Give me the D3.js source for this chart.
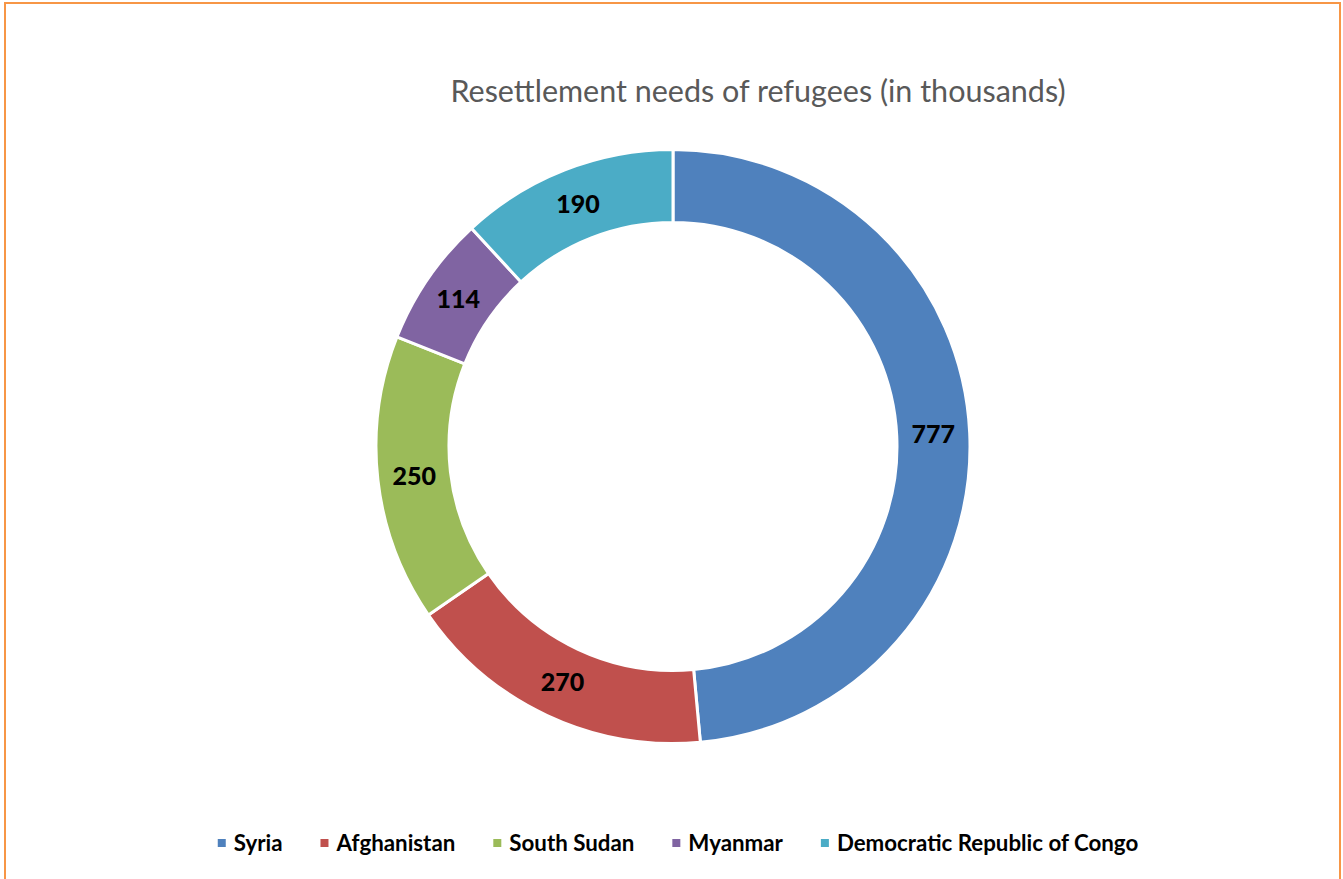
<!DOCTYPE html>
<html>
<head>
<meta charset="utf-8">
<script src="https://cdn.jsdelivr.net/npm/d3@7"></script>
<style>
  html, body { margin: 0; padding: 0; background: #fff; }
  svg { display: block; }
</style>
</head>
<body>
<div id="chart"></div>
<script>
const countries = ["Syria", "Afghanistan", "South Sudan", "Myanmar", "Democratic Republic of Congo"];
const needs = [777, 270, 250, 114, 190];
const colors = ["#4F81BD", "#C0504D", "#9BBB59", "#8064A2", "#4BACC6"];
const title = "Resettlement needs of refugees (in thousands)";

const width = 1343, height = 879;
const cx = 673, cy = 446.5;
const outerR = 297, innerR = 224;

const svg = d3.select("#chart").append("svg")
    .attr("width", width)
    .attr("height", height);

// orange chart frame (bottom edge runs off the picture)
svg.append("rect")
    .attr("x", 5).attr("y", 3)
    .attr("width", 1335).attr("height", 900)
    .attr("fill", "none")
    .attr("stroke", "#F79646")
    .attr("stroke-width", 2);

svg.append("text")
    .attr("x", 758).attr("y", 102)
    .attr("text-anchor", "middle")
    .style("font-family", "Lato, sans-serif")
    .style("font-size", "30.5px")
    .style("fill", "#595959")
    .text(title);

const data = countries.map((c, i) => ({ name: c, value: needs[i], color: colors[i] }));

const pie = d3.pie().value(d => d.value).sort(null);
const arc = d3.arc().innerRadius(innerR).outerRadius(outerR);
const labelArc = d3.arc().innerRadius((innerR + outerR) / 2).outerRadius((innerR + outerR) / 2);

const g = svg.append("g").attr("transform", `translate(${cx},${cy})`);

const slices = pie(data);

g.selectAll("path")
    .data(slices)
    .enter()
    .append("path")
    .attr("d", arc)
    .attr("fill", d => d.data.color)
    .attr("stroke", "white")
    .style("stroke-width", "3px");

g.selectAll("text")
    .data(slices)
    .enter()
    .append("text")
    .text(d => d.data.value)
    .attr("transform", d => `translate(${labelArc.centroid(d)})`)
    .attr("text-anchor", "middle")
    .attr("dy", "0.36em")
    .style("font-family", "Lato, sans-serif")
    .style("font-weight", "900")
    .style("font-size", "25px")
    .style("fill", "#000");

// legend, laid out by measured text widths and centred
const legend = svg.append("g");
const items = legend.selectAll("g")
    .data(data)
    .enter()
    .append("g");

items.append("rect")
    .attr("width", 8).attr("height", 8)
    .attr("y", -4)
    .attr("fill", d => d.color);

items.append("text")
    .attr("x", 16)
    .attr("dy", "0.36em")
    .style("font-family", "Lato, sans-serif")
    .style("font-weight", "bold")
    .style("font-size", "22.3px")
    .style("fill", "#000")
    .text(d => d.name);

const gap = 38;
let x = 0;
items.each(function() {
    const w = 16 + this.querySelector("text").getComputedTextLength();
    d3.select(this).attr("transform", `translate(${x},0)`);
    x += w + gap;
});
const total = x - gap;
legend.attr("transform", `translate(${678 - total / 2},843)`);
</script>
</body>
</html>
